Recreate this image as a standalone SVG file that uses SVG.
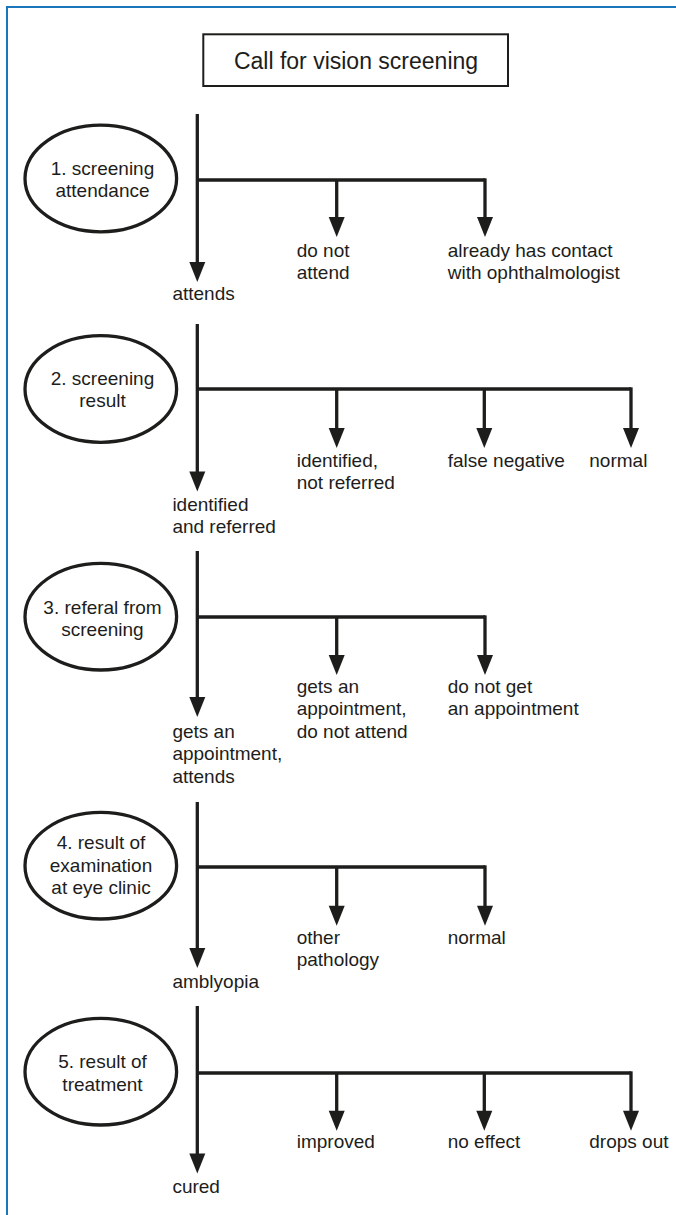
<svg xmlns="http://www.w3.org/2000/svg" width="676" height="1215" viewBox="0 0 676 1215">
<style>
text{font-family:"Liberation Sans",Arial,sans-serif;font-size:19px;fill:#1d1d1b}
.t{font-size:23px}
.m{text-anchor:middle}
.ln{fill:none;stroke:#1d1d1b;stroke-width:3.3;stroke-linejoin:miter}
.ar{marker-end:url(#ah)}
.el{fill:#fff;stroke:#1d1d1b;stroke-width:3.3}
.bx{fill:#fff;stroke:#1d1d1b;stroke-width:2}
.bd{fill:none;stroke:#1b75bb;stroke-width:2}
</style>
<defs>
<marker id="ah" markerUnits="userSpaceOnUse" markerWidth="22" markerHeight="18" refX="1" refY="0" orient="auto" viewBox="0 -9 22 18" overflow="visible">
<path d="M0,-8 L20,0 L0,8 Z" fill="#1d1d1b"/>
</marker>
</defs>
<rect width="676" height="1215" fill="#fff"/>
<path class="bd" d="M7,1215 V7 H676"/>

<g id="start">
<rect class="bx" x="203.3" y="34.3" width="304.7" height="51.7"/>
<text class="t m" x="356" y="69">Call for vision screening</text>
</g>

<g id="connectors">
<path class="ln ar" d="M197.3,114 V263"/>
<path class="ln" d="M197.3,180 H485"/>
<path class="ln ar" d="M336.7,180 V218"/>
<path class="ln ar" d="M485,178.35 V218"/>
<path class="ln ar" d="M197.3,324 V472.5"/>
<path class="ln" d="M197.3,389 H631"/>
<path class="ln ar" d="M336.7,389 V429"/>
<path class="ln ar" d="M484.3,389 V429"/>
<path class="ln ar" d="M631,387.35 V429"/>
<path class="ln ar" d="M197.3,551 V698"/>
<path class="ln" d="M197.3,617 H485"/>
<path class="ln ar" d="M336.7,617 V656"/>
<path class="ln ar" d="M485,615.35 V656"/>
<path class="ln ar" d="M197.3,802 V949"/>
<path class="ln" d="M197.3,867 H485"/>
<path class="ln ar" d="M336.7,867 V906.7"/>
<path class="ln ar" d="M485,865.35 V906.7"/>
<path class="ln ar" d="M197.3,1006 V1154.5"/>
<path class="ln" d="M197.3,1073 H631"/>
<path class="ln ar" d="M336.7,1073 V1111.7"/>
<path class="ln ar" d="M484.3,1073 V1111.7"/>
<path class="ln ar" d="M631,1071.35 V1111.7"/>
</g>

<g id="node1">
<ellipse class="el" cx="100.8" cy="178.5" rx="75.8" ry="53.3"/>
<text class="m" x="102.5"><tspan x="102.5" y="175">1. screening</tspan><tspan x="102.5" y="197.3">attendance</tspan></text>
</g>
<g id="node2">
<ellipse class="el" cx="100.8" cy="389" rx="75.8" ry="53.3"/>
<text class="m" x="102.5"><tspan x="102.5" y="385">2. screening</tspan><tspan x="102.5" y="407.3">result</tspan></text>
</g>
<g id="node3">
<ellipse class="el" cx="100.8" cy="616.7" rx="75.8" ry="53.3"/>
<text class="m" x="102.5"><tspan x="102.5" y="614">3. referal from</tspan><tspan x="102.5" y="636.3">screening</tspan></text>
</g>
<g id="node4">
<ellipse class="el" cx="100.8" cy="865.7" rx="75.8" ry="53.3"/>
<text class="m" x="101"><tspan x="101" y="849.3">4. result of</tspan><tspan x="101" y="871.6">examination</tspan><tspan x="101" y="893.9">at eye clinic</tspan></text>
</g>
<g id="node5">
<ellipse class="el" cx="100.8" cy="1071.7" rx="75.8" ry="53.3"/>
<text class="m" x="102.5"><tspan x="102.5" y="1068.3">5. result of</tspan><tspan x="102.5" y="1090.6">treatment</tspan></text>
</g>

<g id="labels1">
<text x="172.4" y="300">attends</text>
<text><tspan x="296.7" y="257">do not</tspan><tspan x="296.7" y="279.3">attend</tspan></text>
<text><tspan x="447.7" y="257">already has contact</tspan><tspan x="447.7" y="279.3">with ophthalmologist</tspan></text>
</g>
<g id="labels2">
<text><tspan x="172.4" y="510.5">identified</tspan><tspan x="172.4" y="532.8">and referred</tspan></text>
<text><tspan x="296.7" y="466.5">identified,</tspan><tspan x="296.7" y="488.8">not referred</tspan></text>
<text x="447.7" y="466.5">false negative</text>
<text x="589.3" y="466.5">normal</text>
</g>
<g id="labels3">
<text><tspan x="172.4" y="738">gets an</tspan><tspan x="172.4" y="760.3">appointment,</tspan><tspan x="172.4" y="782.6">attends</tspan></text>
<text><tspan x="296.7" y="693">gets an</tspan><tspan x="296.7" y="715.3">appointment,</tspan><tspan x="296.7" y="737.6">do not attend</tspan></text>
<text><tspan x="447.7" y="693">do not get</tspan><tspan x="447.7" y="715.3">an appointment</tspan></text>
</g>
<g id="labels4">
<text x="172.4" y="988">amblyopia</text>
<text><tspan x="296.7" y="944">other</tspan><tspan x="296.7" y="966.3">pathology</tspan></text>
<text x="447.7" y="944">normal</text>
</g>
<g id="labels5">
<text x="172.4" y="1193">cured</text>
<text x="296.7" y="1148">improved</text>
<text x="447.7" y="1148">no effect</text>
<text x="589.3" y="1148">drops out</text>
</g>
</svg>
